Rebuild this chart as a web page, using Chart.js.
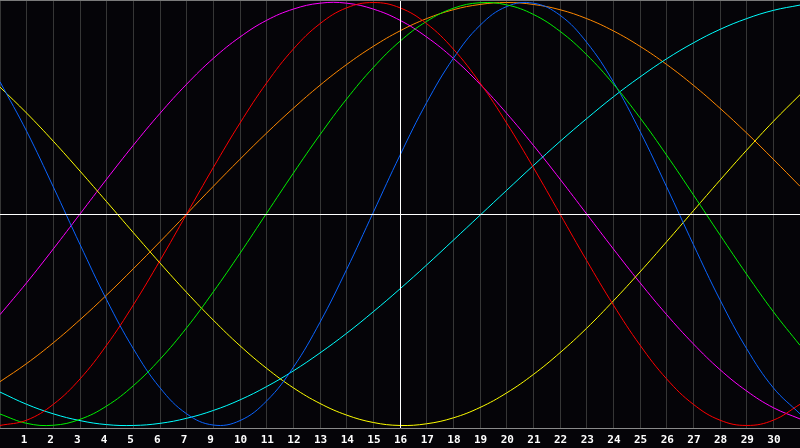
<!DOCTYPE html>
<html>
<head>
<meta charset="utf-8">
<script src="https://cdn.jsdelivr.net/npm/chart.js@4"></script>
<style>
  html, body { margin: 0; padding: 0; background: #050408; }
  #wrap { width: 800px; height: 448px; }
</style>
</head>
<body>
<div id="wrap"><canvas id="bioChart" width="800" height="448"></canvas></div>
<script>
// ---------- Data ----------
// one label per vertical grid line; the edges carry no text
const dayLabels = ['', '1', '2', '3', '4', '5', '6', '7', '9', '10', '11', '12', '13', '14', '15',
  '16', '17', '18', '19', '20', '21', '22', '23', '24', '25', '26', '27', '28', '29', '30', ''];
const todayIndex = 15;

const redValues = [-1.00, -0.975, -0.90, -0.78, -0.62, -0.43, -0.22, 0.00, 0.22, 0.43, 0.62, 0.78, 0.90, 0.975, 1.00,
  0.975, 0.90, 0.78, 0.62, 0.43, 0.22, 0.00, -0.22, -0.43, -0.62, -0.78, -0.90, -0.975, -1.00, -0.975, -0.90];
const greenValues = [-0.946, -0.99, -0.999, -0.971, -0.908, -0.812, -0.687, -0.538, -0.368, -0.186, 0.004, 0.193, 0.375, 0.544, 0.693,
  0.817, 0.911, 0.973, 0.999, 0.989, 0.944, 0.864, 0.753, 0.615, 0.455, 0.278, 0.091, -0.099, -0.285, -0.462, -0.621];
const blueValues = [0.625, 0.391, 0.128, -0.144, -0.406, -0.637, -0.822, -0.945, -0.998, -0.977, -0.884, -0.725, -0.512, -0.262, 0.008,
  0.278, 0.527, 0.736, 0.892, 0.981, 0.997, 0.94, 0.812, 0.625, 0.391, 0.128, -0.144, -0.406, -0.637, -0.822, -0.945];
const yellowValues = [0.60, 0.477, 0.344, 0.203, 0.058, -0.088, -0.232, -0.371, -0.502, -0.623, -0.73, -0.822, -0.896, -0.951, -0.986,
  -1.00, -0.992, -0.964, -0.915, -0.846, -0.759, -0.656, -0.54, -0.411, -0.274, -0.131, 0.015, 0.16, 0.302, 0.438, 0.564];
const cyanValues = [-0.842, -0.90, -0.945, -0.977, -0.996, -1.00, -0.99, -0.966, -0.929, -0.879, -0.816, -0.742, -0.657, -0.564, -0.462,
  -0.354, -0.241, -0.124, -0.006, 0.112, 0.229, 0.343, 0.451, 0.554, 0.648, 0.734, 0.809, 0.873, 0.924, 0.963, 0.988];
const magentaValues = [-0.476, -0.325, -0.165, 0.00, 0.165, 0.325, 0.476, 0.614, 0.736, 0.837, 0.916, 0.969, 0.997, 0.997, 0.969,
  0.916, 0.837, 0.736, 0.614, 0.476, 0.325, 0.165, 0.00, -0.165, -0.325, -0.476, -0.614, -0.736, -0.837, -0.916, -0.969];
const orangeValues = [-0.793, -0.707, -0.609, -0.50, -0.383, -0.259, -0.131, 0.00, 0.131, 0.259, 0.383, 0.50, 0.609, 0.707, 0.793,
  0.866, 0.924, 0.966, 0.991, 1.00, 0.991, 0.966, 0.924, 0.866, 0.793, 0.707, 0.609, 0.50, 0.383, 0.259, 0.131];

// ---------- Helpers ----------
function curve(values, color) {
  return {
    data: values,
    borderColor: color,
    borderWidth: 1,
    pointRadius: 0,
    fill: false,
    tension: 0.4
  };
}

// background, top frame line and the white "today" cross
const framePlugin = {
  id: 'frame',
  beforeDraw(chart) {
    const ctx = chart.ctx;
    ctx.save();
    ctx.fillStyle = '#050408';
    ctx.fillRect(0, 0, chart.width, chart.height);
    ctx.restore();
  },
  afterDatasetsDraw(chart) {
    const { ctx, chartArea, scales } = chart;
    const xToday = Math.round(scales.x.getPixelForValue(todayIndex)) + 0.5;
    const yZero = Math.round(scales.y.getPixelForValue(0)) + 0.5;
    ctx.save();
    ctx.lineWidth = 1;
    ctx.strokeStyle = '#ffffff';
    ctx.beginPath();
    ctx.moveTo(chartArea.left, yZero);
    ctx.lineTo(chartArea.right, yZero);
    ctx.moveTo(xToday, chartArea.top);
    ctx.lineTo(xToday, chartArea.bottom);
    ctx.stroke();
    ctx.strokeStyle = '#7a7a7a';
    ctx.beginPath();
    ctx.moveTo(chartArea.left, 0.5);
    ctx.lineTo(chartArea.right, 0.5);
    ctx.stroke();
    ctx.restore();
  }
};

// ---------- Chart ----------
new Chart(document.getElementById('bioChart').getContext('2d'), {
  type: 'line',
  data: {
    labels: dayLabels,
    datasets: [
      curve(redValues, '#ff0000'),
      curve(greenValues, '#00f000'),
      curve(blueValues, '#0a64ff'),
      curve(yellowValues, '#ffff00'),
      curve(cyanValues, '#00ffff'),
      curve(magentaValues, '#ff00ff'),
      curve(orangeValues, '#ff8800')
    ]
  },
  options: {
    responsive: false,
    animation: false,
    layout: { padding: 0, autoPadding: false },
    plugins: { legend: { display: false }, tooltip: { enabled: false } },
    scales: {
      x: {
        offset: false,
        // full-width plot area: drop the side padding the ticks would reserve
        afterFit: scale => {
          scale.height = 20;
          scale.paddingLeft = 0;
          scale.paddingRight = 0;
        },
        grid: { color: '#363636', drawTicks: false, lineWidth: 1 },
        border: { display: true, color: '#8a8a8a' },
        ticks: {
          color: '#ffffff',
          font: { family: 'DejaVu Sans Mono', weight: 'bold', size: 11 },
          padding: 6,
          align: 'start',
          labelOffset: -6,
          maxRotation: 0,
          autoSkip: false
        }
      },
      y: {
        display: false,
        min: -1.012,
        max: 1.012
      }
    }
  },
  plugins: [framePlugin]
});
</script>
</body>
</html>
